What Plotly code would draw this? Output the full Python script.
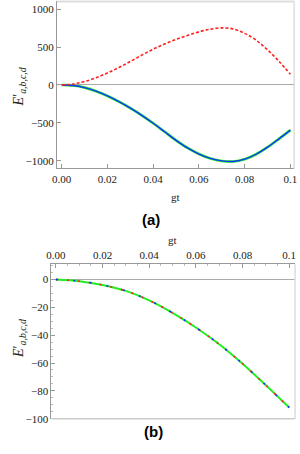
import plotly.graph_objects as go

# ---- data: panel (a) ----
gt_a = [0.0, 0.005, 0.01, 0.015, 0.02, 0.025, 0.03, 0.035, 0.04, 0.045, 0.05,
        0.055, 0.06, 0.065, 0.07, 0.075, 0.08, 0.085, 0.09, 0.095, 0.1]
red_a = [0, 12, 45, 95, 158, 230, 310, 393, 472, 540, 600,
         653, 700, 735, 752, 738, 680, 590, 462, 312, 140]
blue_a = [0, -8, -35, -82, -145, -220, -305, -400, -505, -617, -730,
          -830, -910, -968, -1001, -1008, -978, -913, -820, -710, -595]
green_a = [0, -8, -35, -82, -145, -220, -305, -400, -505, -617, -730,
           -830, -910, -968, -1001, -1008, -978, -913, -820, -710, -595]

# ---- data: panel (b) ----
gt_b = [0.0, 0.01, 0.02, 0.03, 0.04, 0.05, 0.06, 0.07, 0.08, 0.09, 0.1]
red_b = [0, -1.2, -3.9, -8.2, -15, -24, -34.5, -46.5, -60.5, -76, -92]
blue_b = [0, -1.2, -3.9, -8.2, -15, -24, -34.5, -46.5, -60.5, -76, -92]
green_b = [0, -1.2, -3.9, -8.2, -15, -24, -34.5, -46.5, -60.5, -76, -92]

xticks = [0, 0.02, 0.04, 0.06, 0.08, 0.1]
xticktext = ["0.00", "0.02", "0.04", "0.06", "0.08", "0.1"]
yticks_a = [-1000, -500, 0, 500, 1000]
yticks_b = [-100, -80, -60, -40, -20, 0]

W, H = 300, 454
def px(x): return x / W
def py(y): return 1 - y / H

fig = go.Figure()
# panel a
fig.add_trace(go.Scatter(x=gt_a, y=green_a, mode="lines", line=dict(color="#22ee22", width=2.6, shape="spline", smoothing=1),
                         xaxis="x", yaxis="y", showlegend=False))
fig.add_trace(go.Scatter(x=gt_a, y=blue_a, mode="lines", line=dict(color="#1133ff", width=1.4, shape="spline", smoothing=1),
                         xaxis="x", yaxis="y", showlegend=False))
fig.add_trace(go.Scatter(x=gt_a, y=red_a, mode="lines", line=dict(color="#ff2020", width=1.6, dash="3px,2px", shape="spline", smoothing=1),
                         xaxis="x", yaxis="y", showlegend=False))
# panel b
fig.add_trace(go.Scatter(x=gt_b, y=green_b, mode="lines", line=dict(color="#22ee22", width=2, shape="spline"),
                         xaxis="x2", yaxis="y2", showlegend=False))
fig.add_trace(go.Scatter(x=gt_b, y=red_b, mode="lines", line=dict(color="#ff2020", width=1.6, dash="2px,9px", shape="spline"),
                         xaxis="x2", yaxis="y2", showlegend=False))
fig.add_trace(go.Scatter(x=gt_b, y=blue_b, mode="lines", line=dict(color="#1133ff", width=1.6, dash="2px,15px", shape="spline"),
                         xaxis="x2", yaxis="y2", showlegend=False))

tickfont = dict(family="Liberation Serif, DejaVu Serif, serif", size=11, color="#222")
axcommon = dict(showgrid=False, ticks="inside", ticklen=4, tickcolor="#999", linecolor="#999",
                showline=True, tickfont=tickfont)

fig.update_layout(
    width=W, height=H, margin=dict(l=0, r=0, t=0, b=0),
    paper_bgcolor="white", plot_bgcolor="white",
    xaxis=dict(domain=[px(53.3), px(297)], range=[-0.00213, 0.1016], anchor="y",
               tickvals=xticks, ticktext=xticktext, zeroline=False, **axcommon),
    yaxis=dict(domain=[py(170.7), py(1.5)], range=[-1100, 1100], anchor="x",
               tickvals=yticks_a, zeroline=True, zerolinecolor="#aaa", zerolinewidth=1, **axcommon),
    xaxis2=dict(domain=[px(47.7), px(298)], range=[-0.0019, 0.1025], anchor="y2", side="top",
                tickvals=xticks, ticktext=xticktext, zeroline=False,
                minor=dict(dtick=0.005, tick0=0, ticks="inside", ticklen=2, tickcolor="#bbb"), **axcommon),
    yaxis2=dict(domain=[py(424.3), py(267.7)], range=[-100, 11], anchor="x2",
                tickvals=yticks_b, zeroline=True, zerolinecolor="#aaa", zerolinewidth=1,
                minor=dict(dtick=5, tick0=0, ticks="inside", ticklen=2, tickcolor="#bbb"), **axcommon),
)

# frame lines (top/right for a, bottom/right for b)
fig.add_shape(type="line", xref="x domain", yref="y domain", x0=0, x1=1, y0=1, y1=1,
              line=dict(color="#dddddd", width=2))
fig.add_shape(type="line", xref="x domain", yref="y domain", x0=1, x1=1, y0=0, y1=1,
              line=dict(color="#cccccc", width=1))
fig.add_shape(type="line", xref="x2 domain", yref="y2 domain", x0=0, x1=1, y0=0, y1=0,
              line=dict(color="#cccccc", width=1.5))
fig.add_shape(type="line", xref="x2 domain", yref="y2 domain", x0=1, x1=1, y0=0, y1=1,
              line=dict(color="#dddddd", width=1.5))

ylab = "<i>E</i>′<sub><i>a,b,c,d</i></sub>"
serif = dict(family="Liberation Serif, DejaVu Serif, serif", size=11, color="#222")
ann = [
    dict(x=px(15), y=py(88), text=ylab, textangle=-90, font=dict(family="Liberation Serif", size=14, color="#222")),
    dict(x=px(15), y=py(343), text=ylab, textangle=-90, font=dict(family="Liberation Serif", size=14, color="#222")),
    dict(x=px(175), y=py(200), text="gt", font=serif),
    dict(x=px(172), y=py(243), text="gt", font=serif),
    dict(x=px(150), y=py(222), text="<b>(a)</b>", font=dict(family="Liberation Sans", size=15, color="black")),
    dict(x=px(153), y=py(437), text="<b>(b)</b>", font=dict(family="Liberation Sans", size=15, color="black")),
]
for a in ann:
    fig.add_annotation(xref="paper", yref="paper", showarrow=False, xanchor="center", yanchor="middle", **a)

fig.write_html("out.html", config={"displayModeBar": False},
               post_script="document.body.style.margin='0';document.body.style.overflow='hidden';")
